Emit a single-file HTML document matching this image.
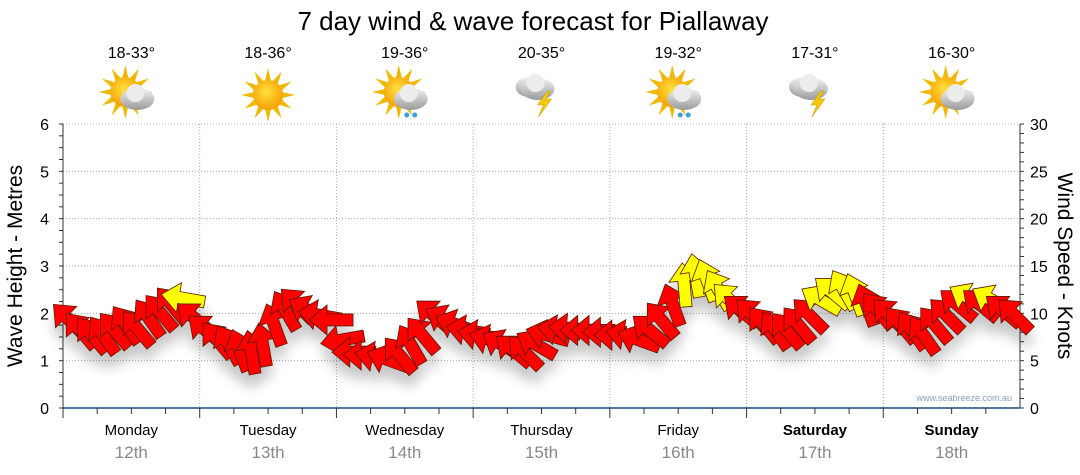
<!DOCTYPE html>
<html><head><meta charset="utf-8">
<style>
body{margin:0;background:#fff;width:1080px;height:475px;overflow:hidden;font-family:"Liberation Sans",sans-serif}
svg{display:block}
</style></head>
<body>
<svg id="chart" width="1080" height="475" xmlns="http://www.w3.org/2000/svg">
<defs>
<radialGradient id="sunG" cx="45%" cy="40%" r="60%"><stop offset="0" stop-color="#ffe040"/><stop offset="1" stop-color="#f5a000"/></radialGradient>
<linearGradient id="cloudG" x1="0" y1="0" x2="0" y2="1"><stop offset="0" stop-color="#f2f2f2"/><stop offset="1" stop-color="#9a9a9a"/></linearGradient>
<filter id="shadow" x="-20%" y="-20%" width="140%" height="160%"><feGaussianBlur in="SourceAlpha" stdDeviation="6"/><feOffset dx="0" dy="12"/><feComponentTransfer><feFuncA type="linear" slope="0.22"/></feComponentTransfer><feMerge><feMergeNode/><feMergeNode in="SourceGraphic"/></feMerge></filter>
</defs>
<text x="533" y="30" font-size="26" text-anchor="middle" fill="#000">7 day wind &amp; wave forecast for Piallaway</text>
<g id="grid"></g>
<g id="axes"></g>
<g id="icons"></g>
<g id="arrows" filter="url(#shadow)"></g>
<text x="1012" y="401" font-size="9" text-anchor="end" fill="#8aa0b8">www.seabreeze.com.au</text>
<text transform="translate(22,266) rotate(-90)" font-size="21" text-anchor="middle">Wave Height - Metres</text>
<text transform="translate(1058,266) rotate(90)" font-size="21" text-anchor="middle">Wind Speed - Knots</text>
</svg>
<script>
const days=["Monday","Tuesday","Wednesday","Thursday","Friday","Saturday","Sunday"];
const dates=["12th","13th","14th","15th","16th","17th","18th"];
const temps=["18-33°","18-36°","19-36°","20-35°","19-32°","17-31°","16-30°"];
const weather=["partly","sunny","shower","storm","shower","storm","partly"];
const waveTicks=[0,1,2,3,4,5,6];
const windTicks=[0,5,10,15,20,25,30];
const windSpeed=[9.3,8.2,7.7,7.7,8.2,8.8,8.4,9.5,10.1,10.9,11.6,9.5,
8.2,7.2,6.7,6.1,5.9,6.7,8.8,10.3,10.9,10.3,9.8,9.3,
7.2,5.9,5.6,5.4,5.1,5.6,6.7,7.7,9.8,9.3,8.8,8.2,
7.7,7.2,6.7,6.1,5.9,6.7,7.7,8.2,8.4,8.2,8.2,8.0,
7.7,7.7,7.2,8.2,9.3,10.9,13.0,14.0,13.5,12.5,11.4,10.3,
9.8,8.8,8.2,8.2,8.8,9.8,11.4,12.2,12.5,12.0,10.9,10.3,
9.8,8.8,8.2,7.7,8.8,9.8,10.9,11.6,10.9,11.4,10.3,9.8];
const windDir=[-45,-40,-40,-35,-40,-35,-40,-35,-40,-40,-80,-50,
-50,-40,-30,-20,-10,-10,-20,-30,-45,-60,-80,-90,
-100,-90,-90,-80,-70,-40,-30,-40,-50,-60,-70,-80,
-80,-75,-60,-50,-45,-60,-75,-80,-85,-90,-90,-90,
-90,-80,-70,-50,-40,-20,-5,-10,-20,-30,-45,-50,
-45,-40,-35,-40,-40,-45,-60,-50,-30,-20,-20,-40,
-45,-40,-35,-35,-40,-45,-50,-60,-50,-60,-50,-45];
const NS="http://www.w3.org/2000/svg";
const X0=63,X1=1020,YB=408,YT=124;
const dayW=(X1-X0)/7;
const yWave=v=>YB-(v/6)*(YB-YT);
const yWind=v=>YB-(v/30)*(YB-YT);
const xIdx=i=>X0+i*dayW/12+6;
function el(tag,attrs,parent,txt){const e=document.createElementNS(NS,tag);for(const k in attrs)e.setAttribute(k,attrs[k]);if(txt!==undefined)e.textContent=txt;parent.appendChild(e);return e;}
const grid=document.getElementById('grid'),axes=document.getElementById('axes'),icons=document.getElementById('icons'),arrows=document.getElementById('arrows');
waveTicks.forEach(t=>{if(t>0&&t<6){const l=el('line',{x1:X0,x2:X1,y1:yWave(t),y2:yWave(t),stroke:'#aaa','stroke-dasharray':'1,2'},grid);

}
const tx=el('text',{x:X0-14,y:yWave(t)+6,'font-size':16,'text-anchor':'end'},axes,String(t));

});
windTicks.forEach(t=>{const tx=el('text',{x:X1+10,y:yWind(t)+6,'font-size':16,'text-anchor':'start'},axes,String(t));

});
el('line',{x1:X0,x2:X1,y1:YT,y2:YT,stroke:'#aaa','stroke-dasharray':'1,2'},grid);
for(let v=0;v<=6.001;v+=0.25){const y=yWave(v);el('line',{x1:X0-4,x2:X0,y1:y,y2:y,stroke:'#333'},axes);}
for(let v=0;v<=30;v+=1){const y=yWind(v);el('line',{x1:X1,x2:X1+4,y1:y,y2:y,stroke:'#333'},axes);}
el('line',{x1:X0,x2:X0,y1:YT,y2:YB,stroke:'#333'},axes);
el('line',{x1:X1,x2:X1,y1:YT,y2:YB,stroke:'#333'},axes);
el('line',{x1:X0,x2:X1,y1:YB,y2:YB,stroke:'#1a4a7a','stroke-width':1.5},axes);
days.forEach((d,i)=>{const x=X0+i*dayW;
if(i>0){const g=el('line',{x1:x,x2:x,y1:YT,y2:YB,stroke:'#aaa','stroke-dasharray':'1,2'},grid);

}
el('line',{x1:x,x2:x,y1:YB,y2:YB+10,stroke:'#333'},axes);
for(let k=1;k<4;k++)el('line',{x1:x+k*dayW/4,x2:x+k*dayW/4,y1:YB,y2:YB+6,stroke:'#333'},axes);
const cx=x+dayW/2;const bold=i>=5;
const dn=el('text',{x:cx,y:435,'font-size':15,'text-anchor':'middle','font-weight':bold?'bold':'normal'},axes,d);


const dt=el('text',{x:cx,y:458,'font-size':17,'text-anchor':'middle',fill:'#888'},axes,dates[i]);


const tt=el('text',{x:cx,y:58,'font-size':16,'text-anchor':'middle'},icons,temps[i]);


const g=el('g',{transform:`translate(${cx},95)`},icons);


const w=weather[i];
if(w!=='storm'){for(let a=0;a<360;a+=30){el('polygon',{points:'-3,-14 0,-27 3,-14',fill:'#f0b800',transform:`translate(${w==='sunny'?0:-6},${w==='sunny'?0:-3}) rotate(${a})`},g);}
el('circle',{cx:w==='sunny'?0:-6,cy:w==='sunny'?0:-3,r:15,fill:'url(#sunG)'},g);}
if(w!=='sunny'){const ox=w==='storm'?-4:6,oy=w==='storm'?-6:4;
if(w==='storm'){el('ellipse',{cx:ox-8,cy:oy-2,rx:14,ry:10,fill:'url(#cloudG)'},g);}
el('ellipse',{cx:ox,cy:oy,rx:17,ry:11,fill:'url(#cloudG)'},g);
el('circle',{cx:ox-2,cy:oy-6,r:9,fill:'#ececec'},g);
if(w==='storm'){el('polygon',{points:'6,-4 -4,10 2,10 -3,22 10,4 4,4 9,-4',fill:'#f5c800',stroke:'#c09000','stroke-width':0.5},g);}
if(w==='shower'){el('circle',{cx:2,cy:20,r:2.5,fill:'#3aa0e0'},g);el('circle',{cx:10,cy:20,r:2.5,fill:'#3aa0e0'},g);}}
});
windSpeed.forEach((s,i)=>{const x=xIdx(i),y=yWind(s);
const col=s>=11.2?'#ffff00':'#ff0000';
const p=el('polygon',{points:'0,-22 15,-4 6,-4 6,22 -6,22 -6,-4 -15,-4',fill:col,stroke:'#5a1a00','stroke-width':0.8,transform:`translate(${x},${y}) rotate(${windDir[i]})`},arrows);

});
</script>
</body></html>
